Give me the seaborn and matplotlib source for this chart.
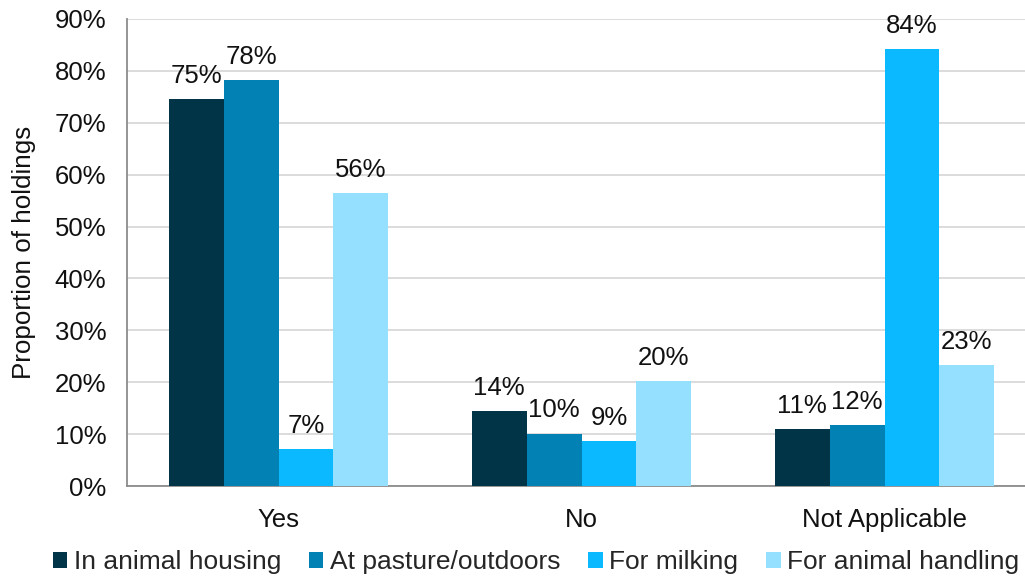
import matplotlib
matplotlib.use("Agg")
import matplotlib.pyplot as plt
from matplotlib.patches import Patch
from matplotlib.ticker import FixedLocator, PercentFormatter
import pandas as pd
import seaborn as sns

categories = ["Yes", "No", "Not Applicable"]
series = ["In animal housing", "At pasture/outdoors", "For milking", "For animal handling"]
in_housing = [74.6, 14.5, 11.0]
at_pasture = [78.2, 10.1, 11.8]
for_milking = [7.1, 8.7, 84.2]
for_handling = [56.5, 20.2, 23.3]
colors = ["#013446", "#0181B4", "#0AB9FF", "#96E0FF"]

rows = []
for name, vals in zip(series, [in_housing, at_pasture, for_milking, for_handling]):
    for cat, v in zip(categories, vals):
        rows.append({"Response": cat, "Use": name, "Share": v})
df = pd.DataFrame(rows)

sns.set_style("white")
plt.rcParams["font.family"] = ["Liberation Sans", "DejaVu Sans"]

FS = 18.5
TXT = "#111111"

fig = plt.figure(figsize=(10.25, 5.79), dpi=100)
ax = fig.add_axes([127 / 1025, 93 / 579, 1 - 127 / 1025, 467 / 579])

sns.barplot(data=df, x="Response", y="Share", hue="Use", hue_order=series,
            order=categories, palette=colors, width=0.726, saturation=1,
            linewidth=0, ax=ax, legend=False, zorder=3)

for cont in ax.containers:
    ax.bar_label(cont, labels=[f"{b.get_height():.0f}%" for b in cont],
                 padding=8, fontsize=FS, color=TXT)

ax.set_ylim(0, 90)
ax.set_xlim(-0.5, (1025 - 127) / 303 - 0.5)
ax.yaxis.set_major_locator(FixedLocator(range(0, 91, 10)))
ax.yaxis.set_major_formatter(PercentFormatter(decimals=0))
ax.grid(axis="y", color="#D9D9D9", linewidth=1.3, zorder=0)
ax.set_axisbelow(True)

ax.set_xticks([0, 1, 2])
ax.set_xticklabels(categories)
ax.set_xticks([-0.5, 0.5, 1.5], minor=True)
ax.tick_params(axis="x", which="major", length=0, pad=16, labelsize=FS, colors=TXT)
ax.tick_params(axis="x", which="minor", length=6, width=1.2, color="#8C8C8C", direction="out")
ax.tick_params(axis="y", length=6, width=1.2, color="#8C8C8C", direction="out",
               labelsize=FS, labelcolor=TXT, pad=9)

for s in ["top", "right"]:
    ax.spines[s].set_visible(False)
for s in ["left", "bottom"]:
    ax.spines[s].set_color("#8C8C8C")
    ax.spines[s].set_linewidth(1.3)

ax.set_xlabel("")
ax.set_ylabel("Proportion of holdings", fontsize=18.7, color=TXT, labelpad=13)

handles = [Patch(facecolor=c, edgecolor="none", label=n) for c, n in zip(colors, series)]
fig.legend(handles=handles, loc="center", bbox_to_anchor=(536 / 1025, 1 - 562 / 579),
           ncol=4, frameon=False, fontsize=19, handlelength=0.55, handleheight=0.55,
           handletextpad=0.25, columnspacing=1.05, borderaxespad=0, borderpad=0)

fig.savefig("out.png", dpi=100)
